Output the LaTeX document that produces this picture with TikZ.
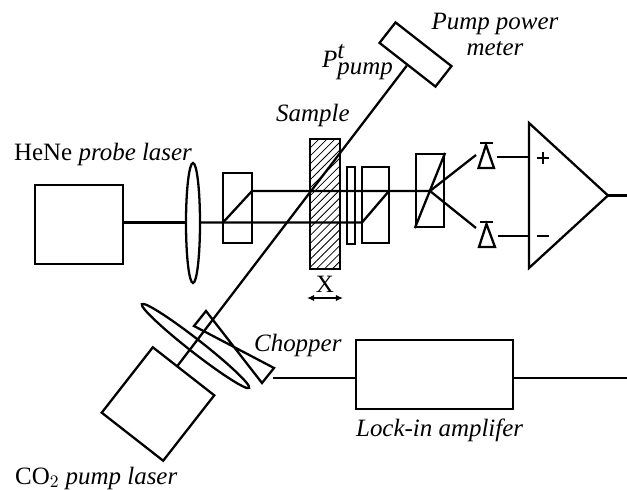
\documentclass[tikz,border=0pt]{standalone}
\usepackage{fontspec}
\setmainfont{Liberation Serif}
\usetikzlibrary{shapes.geometric,patterns.meta,arrows.meta}
\tikzset{
  optic/.style={draw,rectangle,inner sep=0pt,line width=1.3pt},
  lens/.style={draw,ellipse,inner sep=0pt,line width=1.3pt},
  lbl/.style={inner sep=0pt,font=\fontsize{14.2}{14.2}\selectfont}
}
\begin{document}
\begin{tikzpicture}[x=0.02cm,y=-0.02cm,line width=1.3pt]
      \useasboundingbox (0,0) rectangle (627,490);
      % probe arm
      \node[optic,minimum width=1.76cm,minimum height=1.58cm] (hene) at (79,224.5) {};
      \node[lens,fill=white,minimum width=.28cm,minimum height=2.4cm] (probelens) at (193,223) {};
      \node[optic,minimum width=.58cm,minimum height=1.4cm] (splitter) at (237.5,208) {};
      \node[optic,minimum width=.61cm,minimum height=2.6cm,
        pattern={Lines[angle=45,distance=3.2pt,line width=.45pt]}] (sample) at (325,204) {};
      \node[optic,minimum width=.16cm,minimum height=1.54cm] (plate) at (351,205.5) {};
      \node[optic,minimum width=.54cm,minimum height=1.52cm] (combiner) at (375.5,205) {};
      \node[optic,minimum width=.56cm,minimum height=1.46cm] (analyser) at (430,190.5) {};
      \coordinate (splita) at (223,222.5);
      \coordinate (splitb) at (252,191);
      \coordinate (joina) at (362,222.5);
      \coordinate (joinb) at (389,191);
      \coordinate (cross) at (430,191);
      \draw (hene.east |- splita) -- (probelens.west |- splita);
      \draw (probelens.east |- splita) -- (splita) -- (splitb) -- (cross);
      \draw (splita) -- (joina) -- (joinb);
      \draw (analyser.south west) -- (analyser.north east);
      % detectors and amplifier
      \coordinate (upa) at (476,155);
      \coordinate (downa) at (476,228);
      \draw (cross) -- (upa);
      \draw (cross) -- (downa);
      \draw (480,143) -- (493,143);
      \draw (486,145) -- (478.5,168) -- (494,168) -- cycle;
      \draw (480,222) -- (493,222);
      \draw (486.5,224) -- (479,247) -- (495,247) -- cycle;
      \coordinate (ampa) at (529,123);
      \coordinate (ampb) at (529,268);
      \coordinate (ampc) at (608,195.5);
      \coordinate (ampout) at (627,195.5);
      \draw (ampa) -- (ampc) -- (ampb) -- cycle;
      \draw (497,157) -- (ampa |- 0,157);
      \draw (498,236) -- (ampa |- 0,236);
      \draw (ampc) -- (ampout);
      \draw (537,158) -- (549,158) (543,152) -- (543,164);
      \draw (537,236) -- (549,236);
      % pump arm
      \node[optic,rotate=-38,minimum width=1.56cm,minimum height=1.66cm] (pump) at (158,404) {};
      \node[lens,rotate=-38,minimum width=2.72cm,minimum height=.26cm] (pumplens) at (195.5,346) {};
      \node[optic,rotate=-38,minimum width=1.42cm,minimum height=.52cm] (meter) at (415.5,54.5) {};
      \coordinate (pumpexit) at (177,366.5);
      \draw (pumpexit) -- (meter.south);
      \coordinate (chopa) at (206,311);
      \coordinate (chopb) at (194,326);
      \coordinate (chopc) at (274,368);
      \coordinate (chopd) at (262,383);
      \draw (chopa) -- (chopb) -- (chopc) -- (chopd) -- cycle;
      % lock-in
      \node[optic,minimum width=3.14cm,minimum height=1.38cm] (lockin) at (434.5,374.5) {};
      \coordinate (chopout) at (273,378);
      \coordinate (lockout) at (627,378);
      \draw (chopout) -- (lockin.west |- chopout);
      \draw (lockin.east |- lockout) -- (lockout);
      % travel of the sample
      \coordinate (xa) at (307,298);
      \coordinate (xb) at (343,298);
      \draw[line width=.7pt,{Latex[length=4pt,width=3.5pt]}-{Latex[length=4pt,width=3.5pt]}] (xa) -- (xb);
      % labels
      \node[lbl] (xlabel) at (325,284.5) {X};
      \node[lbl,anchor=base west] (henelabel) at (13,160) {HeNe \textit{probe laser}};
      \node[lbl,anchor=base west] (samplelabel) at (275,122) {\textit{Sample}};
      \node[lbl,anchor=base west] (ptlabel) at (321,68) {\textit{P}$^{\textit{t}}_{\textit{pump}}$};
      \node[lbl,anchor=base] (meterlabelb) at (495,30) {\textit{Pump power}};
      \node[lbl,anchor=base] (meterlabela) at (495,55) {\textit{meter}};
      \node[lbl,anchor=base west] (choplabel) at (253,352) {\textit{Chopper}};
      \node[lbl,anchor=base west] (locklabel) at (355,437) {\textit{Lock-in amplifer}};
      \node[lbl,anchor=base west] (pumplabel) at (14,484) {CO$_2$ \textit{pump laser}};
\end{tikzpicture}
\end{document}
